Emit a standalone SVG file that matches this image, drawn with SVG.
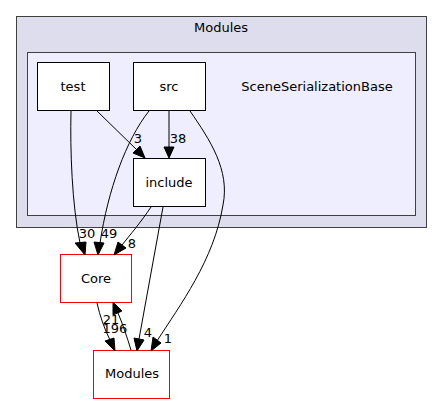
<svg xmlns="http://www.w3.org/2000/svg" width="443" height="404" viewBox="0 0 443 404">
<style>
text{font-family:"DejaVu Sans",sans-serif;font-size:13px;fill:#000}
.c{text-anchor:middle}
.e path{fill:none;stroke:#000;stroke-width:1}
.e polygon{fill:#000;stroke:#000;stroke-width:1}
.n rect{fill:#fff;stroke:#000;stroke-width:1}
.r rect{fill:#fff;stroke:#ff0000;stroke-width:1}
</style>
<g id="cluster-modules">
<rect x="16.5" y="16.5" width="410" height="211" fill="#ddddee" stroke="#404040"/>
<text class="c" x="221" y="32">Modules</text>
</g>
<g id="cluster-scene">
<rect x="27.5" y="52.5" width="388" height="163" fill="#eeeeff" stroke="#404040"/>
<text class="c" x="317" y="91">SceneSerializationBase</text>
</g>
<g id="node-test" class="n">
<rect x="37.5" y="62.5" width="72" height="48"/>
<text class="c" x="73" y="91">test</text>
</g>
<g id="node-src" class="n">
<rect x="133.5" y="62.5" width="72" height="48"/>
<text class="c" x="169" y="91">src</text>
</g>
<g id="node-include" class="n">
<rect x="133.5" y="158.5" width="72" height="48"/>
<text class="c" x="169" y="187">include</text>
</g>
<g id="node-core" class="r">
<rect x="60.5" y="254.5" width="71" height="48"/>
<text class="c" x="96" y="283">Core</text>
</g>
<g id="node-modules" class="r">
<rect x="93.5" y="350.5" width="76" height="48"/>
<text class="c" x="132" y="378">Modules</text>
</g>
<g id="connectors" class="e">
<path d="M71,111 C70,150 72,205 80,243"/>
<polygon points="75,243 85,255 86,242"/>
<text class="c" x="87" y="238">30</text>
<path d="M149,111 C126,140 108,190 100,243"/>
<polygon points="94,242 98,255 104,243"/>
<text class="c" x="109" y="238">49</text>
<path d="M169,111 L169,147"/>
<polygon points="164,147 169,158 174,147"/>
<text class="c" x="178" y="143">38</text>
<path d="M97,111 L137,150"/>
<polygon points="133,153 145,158 140,146"/>
<text class="c" x="138" y="143">3</text>
<path d="M151,207 C141,222 130,235 122,245"/>
<polygon points="118,242 114,255 126,248"/>
<text class="c" x="132" y="248">8</text>
<path d="M163,207 L139,339"/>
<polygon points="134,338 137,351 144,340"/>
<text class="c" x="148" y="337">4</text>
<path d="M190,111 C210,140 230,170 223,205 C214,260 180,305 157,341"/>
<polygon points="153,337 151,351 161,343"/>
<text class="c" x="168" y="343">1</text>
<path d="M97,303 C100,316 104,328 110,340"/>
<polygon points="105,341 115,351 114,338"/>
<text class="c" x="115" y="333">196</text>
<path d="M131,350 C127,337 123,325 118,313"/>
<polygon points="113,315 113,302 122,311"/>
<text class="c" x="111" y="324">21</text>
</g>
</svg>
